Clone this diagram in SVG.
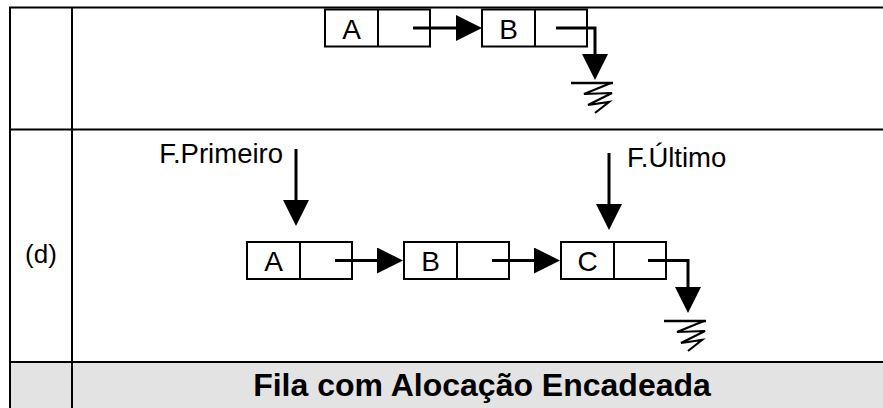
<svg xmlns="http://www.w3.org/2000/svg" width="883" height="408" viewBox="0 0 883 408">
<style>
.tbl{stroke:#000;stroke-width:2;fill:none}
.box{stroke:#000;stroke-width:2;fill:#fff}
.ptr{stroke:#000;stroke-width:3;fill:none}
.lbl{font-family:"Liberation Sans",Arial,sans-serif;font-size:27.5px;fill:#000}
.cell{font-family:"Liberation Sans",Arial,sans-serif;font-size:28px;fill:#000;text-anchor:middle}
.title{font-family:"Liberation Sans",Arial,sans-serif;font-size:32px;font-weight:bold;fill:#000;text-anchor:middle}
.gnd{stroke:#000;stroke-width:2.2;fill:none;stroke-linejoin:miter}
</style>
<defs>
<marker id="ah" markerUnits="userSpaceOnUse" markerWidth="26" markerHeight="26" refX="2" refY="13" orient="auto" viewBox="0 0 26 26">
<path d="M0,0 L26,13 L0,26 z" fill="#000"/>
</marker>
<g id="ground">
<line x1="-24" y1="0" x2="18" y2="0" stroke="#000" stroke-width="2.5"/>
<polyline points="16,0 -11,11 17,10 -7,22 14,19 0,30" class="gnd"/>
</g>
</defs>

<g id="table">
<rect x="10" y="362" width="873" height="46" fill="#e3e3e3"/>
<line x1="9" y1="7.5" x2="883" y2="7.5" class="tbl"/>
<line x1="10" y1="129.5" x2="883" y2="129.5" class="tbl"/>
<line x1="10" y1="362" x2="883" y2="362" class="tbl"/>
<line x1="10" y1="7" x2="10" y2="408" class="tbl"/>
<line x1="72" y1="7" x2="72" y2="408" class="tbl"/>
</g>

<g id="label-d"><text x="41" y="263" class="lbl" text-anchor="middle" style="font-size:26px">(d)</text></g>
<g id="title"><text x="482" y="396" class="title">Fila com Alocação Encadeada</text></g>

<g id="top-A">
<rect x="325" y="9.5" width="105" height="37" class="box"/>
<line x1="378" y1="9.5" x2="378" y2="46.5" class="tbl"/>
<text x="351.5" y="38.5" class="cell">A</text>
</g>
<g id="top-B">
<rect x="482" y="9.5" width="105" height="37" class="box"/>
<line x1="535" y1="9.5" x2="535" y2="46.5" class="tbl"/>
<text x="508.5" y="38.5" class="cell">B</text>
</g>
<g id="top-ground"><use href="#ground" x="595" y="83"/></g>

<g id="mid-A">
<rect x="247" y="242" width="105" height="37" class="box"/>
<line x1="300" y1="242" x2="300" y2="279" class="tbl"/>
<text x="273.5" y="270.5" class="cell">A</text>
</g>
<g id="mid-B">
<rect x="404" y="242" width="105" height="37" class="box"/>
<line x1="457" y1="242" x2="457" y2="279" class="tbl"/>
<text x="430.5" y="270.5" class="cell">B</text>
</g>
<g id="mid-C">
<rect x="561" y="242" width="105" height="37" class="box"/>
<line x1="614" y1="242" x2="614" y2="279" class="tbl"/>
<text x="587.5" y="270.5" class="cell">C</text>
</g>
<g id="mid-ground"><use href="#ground" x="688" y="321"/></g>

<g id="label-primeiro"><text x="283" y="163" class="lbl" text-anchor="end">F.Primeiro</text></g>
<g id="label-ultimo"><text x="627" y="167" class="lbl">F.Último</text></g>

<g id="connectors">
<line x1="413" y1="28" x2="458" y2="28" class="ptr" marker-end="url(#ah)"/>
<polyline points="556,28 595,28 595,56" class="ptr" marker-end="url(#ah)"/>
<line x1="335" y1="260.5" x2="379" y2="260.5" class="ptr" marker-end="url(#ah)"/>
<line x1="492" y1="260.5" x2="536" y2="260.5" class="ptr" marker-end="url(#ah)"/>
<polyline points="648,260.5 688,260.5 688,289" class="ptr" marker-end="url(#ah)"/>
<line x1="296" y1="149" x2="296" y2="202" class="ptr" marker-end="url(#ah)"/>
<line x1="609" y1="153" x2="609" y2="206" class="ptr" marker-end="url(#ah)"/>
</g>
</svg>
